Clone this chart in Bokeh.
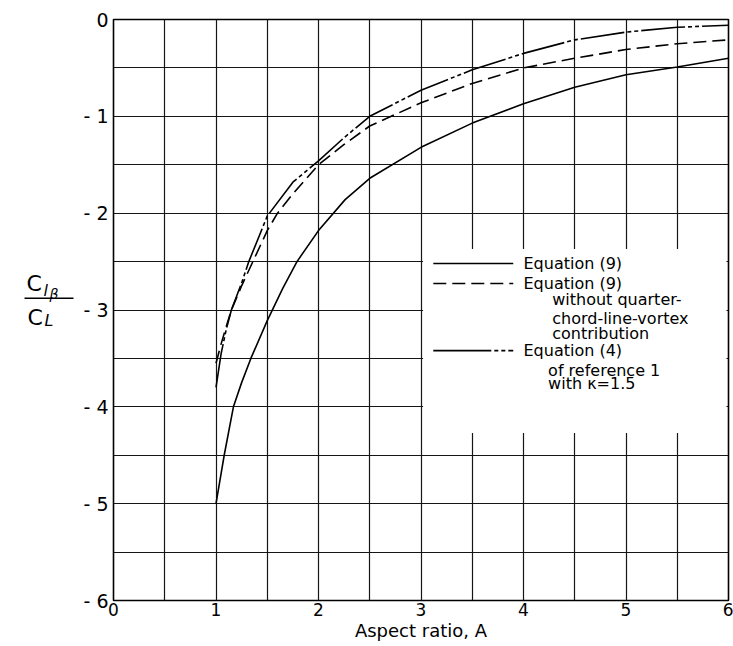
from bokeh.plotting import figure
from bokeh.layouts import row
from bokeh.models import Range1d, FixedTicker
from bokeh.core.properties import value
from bokeh.embed import file_html
from bokeh.resources import INLINE

# ---------------- data ----------------
x_ticks = [0, 1, 2, 3, 4, 5, 6]
x_tick_labels = ["0", "1", "2", "3", "4", "5", "6"]
y_ticks = [0, -1, -2, -3, -4, -5, -6]
y_tick_labels = ["0", "- 1", "- 2", "- 3", "- 4", "- 5", "- 6"]
grid_steps = [0, 0.5, 1, 1.5, 2, 2.5, 3, 3.5, 4, 4.5, 5, 5.5, 6]

# Equation (9)
A_eq9 = [1.0, 1.08, 1.17, 1.25, 1.34, 1.5, 1.65, 1.79, 2.0, 2.26, 2.5, 3.0, 3.5, 4.0, 4.5, 5.0, 5.5, 6.0]
C_eq9 = [-5.0, -4.5, -4.0, -3.75, -3.5, -3.11, -2.78, -2.5, -2.18, -1.86, -1.64, -1.32, -1.07, -0.87, -0.70, -0.57, -0.49, -0.40]

# Equation (9) without quarter-chord-line-vortex contribution
A_eq9nv = [1.0, 1.05, 1.1, 1.15, 1.25, 1.36, 1.5, 1.6, 1.75, 2.0, 2.25, 2.5, 3.0, 3.5, 4.0, 4.5, 5.0, 5.5, 6.0]
C_eq9nv = [-3.55, -3.35, -3.17, -3.0, -2.75, -2.5, -2.18, -2.0, -1.8, -1.5, -1.29, -1.1, -0.86, -0.66, -0.5, -0.4, -0.31, -0.25, -0.21]

# Equation (4) of reference 1 with kappa = 1.5
A_eq4 = [1.0, 1.05, 1.1, 1.15, 1.25, 1.32, 1.5, 1.75, 2.0, 2.25, 2.5, 3.0, 3.5, 4.0, 4.5, 5.0, 5.5, 6.0]
C_eq4 = [-3.8, -3.45, -3.2, -3.0, -2.72, -2.5, -2.03, -1.68, -1.46, -1.22, -1.0, -0.73, -0.52, -0.35, -0.21, -0.13, -0.08, -0.06]

legend_texts_main = ["Equation (9)", "Equation (9)", "Equation (4)"]
legend_texts_sub = ["without quarter-", "chord-line-vortex", "contribution",
                    "of reference 1", "with \u03ba=1.5"]
x_label = "Aspect ratio, A"

# ---------------- styles / layout ----------------
FONT = "DejaVu Sans"
DASH9NV = "13 6"
DASH4 = "44 3 4 3 4 3"
LW = 1.6
H = 646

def bare(fig):
    fig.axis.visible = False
    fig.grid.visible = False
    fig.outline_line_color = None
    fig.background_fill_color = "white"
    fig.border_fill_color = "white"
    return fig

# main chart
p = figure(width=658, height=H, x_range=Range1d(0, 6), y_range=Range1d(-6, 0),
           output_backend="svg", toolbar_location=None, title_location=None,
           min_border_left=38, min_border_right=5, min_border_top=19, min_border_bottom=46)
p.background_fill_color = "white"
p.border_fill_color = "white"
p.outline_line_color = "black"
p.outline_line_width = 1.6

for ax in (p.xaxis, p.yaxis):
    ax.axis_line_color = None
    ax.major_tick_line_color = None
    ax.minor_tick_line_color = None
    ax.major_tick_out = 0
    ax.major_tick_in = 0
    ax.major_label_text_font = FONT
    ax.major_label_text_color = "black"
p.yaxis.major_label_text_font_size = "19px"
p.yaxis.major_label_standoff = 5
p.xaxis.major_label_text_font_size = "17px"
p.xaxis.major_label_standoff = 2
p.xaxis.axis_label = x_label
p.xaxis.axis_label_text_font = FONT
p.xaxis.axis_label_text_font_size = "18px"
p.xaxis.axis_label_text_font_style = "normal"
p.xaxis.axis_label_text_color = "black"
p.xaxis.axis_label_standoff = 1

p.xaxis.ticker = FixedTicker(ticks=x_ticks)
p.yaxis.ticker = FixedTicker(ticks=y_ticks)
p.xaxis.major_label_overrides = {t: s for t, s in zip(x_ticks, x_tick_labels)}
p.yaxis.major_label_overrides = {t: s for t, s in zip(y_ticks, y_tick_labels)}

p.xgrid.ticker = FixedTicker(ticks=grid_steps)
p.ygrid.ticker = FixedTicker(ticks=[-g for g in grid_steps])
for g in (p.xgrid, p.ygrid):
    g.grid_line_color = "#151515"
    g.grid_line_width = 1.2
    g.grid_line_alpha = 1.0

# curves
p.line(A_eq9, C_eq9, line_color="black", line_width=LW)
p.line(A_eq9nv, C_eq9nv, line_color="black", line_width=LW, line_dash=DASH9NV)
p.line(A_eq4, C_eq4, line_color="black", line_width=LW, line_dash=DASH4)

# legend (drawn manually, white box over grid)
box_l, box_r, box_t, box_b = 3.02, 5.98, -2.37, -4.27
p.quad(left=[box_l], right=[box_r], top=[box_t], bottom=[box_b],
       fill_color="white", line_color=None)
lx0, lx1 = 3.12, 3.90
ly = [-2.52, -2.727, -3.42]
p.line([lx0, lx1], [ly[0], ly[0]], line_color="black", line_width=LW)
p.line([lx0, lx1], [ly[1], ly[1]], line_color="black", line_width=LW, line_dash=DASH9NV)
p.line([lx0, lx1], [ly[2], ly[2]], line_color="black", line_width=LW, line_dash="58 3 4 3 4 3")
p.text(x=[4.0, 4.0, 4.0], y=ly, text=legend_texts_main,
       text_font=value(FONT), text_font_size=value("16px"),
       text_baseline="middle", text_align="left", text_color="black")
p.text(x=[4.28, 4.28, 4.28, 4.24, 4.24], y=[-2.89, -3.09, -3.245, -3.62, -3.76],
       text=legend_texts_sub,
       text_font=value(FONT), text_font_size=value("16px"),
       text_baseline="middle", text_align="left", text_color="black")

def ltxt(fig, x, y, t, size, style="normal"):
    fig.text(x=[x], y=[y], text=[t], text_font=value(FONT), text_font_size=value(size),
             text_font_style=style, text_align="left", text_baseline="alphabetic",
             text_color="black")

# left strip: y-axis label C_{l_beta} / C_L (pixel-like coordinates, y downward)
lf = bare(figure(width=75, height=H, x_range=Range1d(0, 75), y_range=Range1d(H, 0),
                 output_backend="svg", toolbar_location=None, title_location=None,
                 min_border_left=0, min_border_right=0, min_border_top=0, min_border_bottom=0))
ltxt(lf, 26, 294, "C", "22px")
ltxt(lf, 43, 301, "l", "16px", "italic")
ltxt(lf, 49, 305, "\u03b2", "14px", "italic")
lf.line([24, 73], [310, 310], line_color="black", line_width=1.6)
ltxt(lf, 27, 331, "C", "22px")
ltxt(lf, 44, 335, "L", "16px", "italic")

layout = row(lf, p)
open("out.html", "w").write(file_html(layout, INLINE))
